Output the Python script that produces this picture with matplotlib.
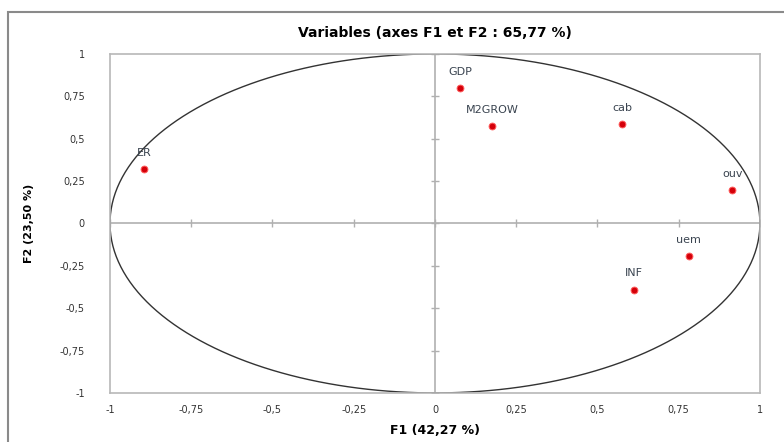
import numpy as np
import matplotlib.pyplot as plt
from matplotlib.patches import Rectangle

# Coordonnees des variables sur F1 et F2
labels = ['ER', 'GDP', 'M2GROW', 'cab', 'ouv', 'uem', 'INF']
f1 = [-0.896, 0.077, 0.175, 0.576, 0.915, 0.781, 0.611]
f2 = [0.322, 0.797, 0.575, 0.585, 0.195, -0.191, -0.390]
ticks = [-1, -0.75, -0.5, -0.25, 0, 0.25, 0.5, 0.75, 1]
tick_labels = ['-1', '-0,75', '-0,5', '-0,25', '0', '0,25', '0,5', '0,75', '1']

fig = plt.figure(figsize=(7.84, 4.42), dpi=100)
ax = fig.add_axes([0.1403, 0.111, 0.829, 0.767])

# cadre exterieur
fig.patches.append(Rectangle((8 / 784, -0.05), 1.1, 1 - 12 / 442 + 0.05,
                             transform=fig.transFigure, fill=False,
                             edgecolor='#8a8a8a', lw=1.5))

# cercle des correlations
t = np.linspace(0, 2 * np.pi, 400)
ax.plot(np.cos(t), np.sin(t), color='#333333', lw=1.0)

# axes centraux avec graduations
ax.axhline(0, color='#b0b0b0', lw=1.2, zorder=1)
ax.axvline(0, color='#b0b0b0', lw=1.2, zorder=1)
ax.plot(ticks, [0] * len(ticks), ls='none', marker='|', ms=6, color='#b0b0b0', zorder=1)
ax.plot([0] * len(ticks), ticks, ls='none', marker='_', ms=6, color='#b0b0b0', zorder=1)

ax.scatter(f1, f2, s=24, color='#d4000a', edgecolor='#ff5a5a', lw=0.7, zorder=3)
for lab, x, y in zip(labels, f1, f2):
    ax.annotate(lab, (x, y), xytext=(0, 8), textcoords='offset points',
                ha='center', va='bottom', fontsize=8, color='#3a4450')

ax.set_xlim(-1, 1)
ax.set_ylim(-1, 1)
ax.set_xticks(ticks)
ax.set_xticklabels(tick_labels)
ax.set_yticks(ticks)
ax.set_yticklabels(tick_labels)
ax.tick_params(length=0, labelsize=7, labelcolor='#333333')
ax.tick_params(axis='x', pad=9)
ax.tick_params(axis='y', pad=18)
for s in ax.spines.values():
    s.set_color('#b8b8b8')
    s.set_linewidth(1.2)

ax.set_title('Variables (axes F1 et F2 : 65,77 %)', fontsize=10, fontweight='bold', pad=12)
ax.set_xlabel('F1 (42,27 %)', fontsize=9, fontweight='bold', labelpad=6)
ax.set_ylabel('F2 (23,50 %)', fontsize=8, fontweight='bold')
ax.yaxis.set_label_coords(-0.117, 0.5)

fig.savefig('out.png', dpi=100)
